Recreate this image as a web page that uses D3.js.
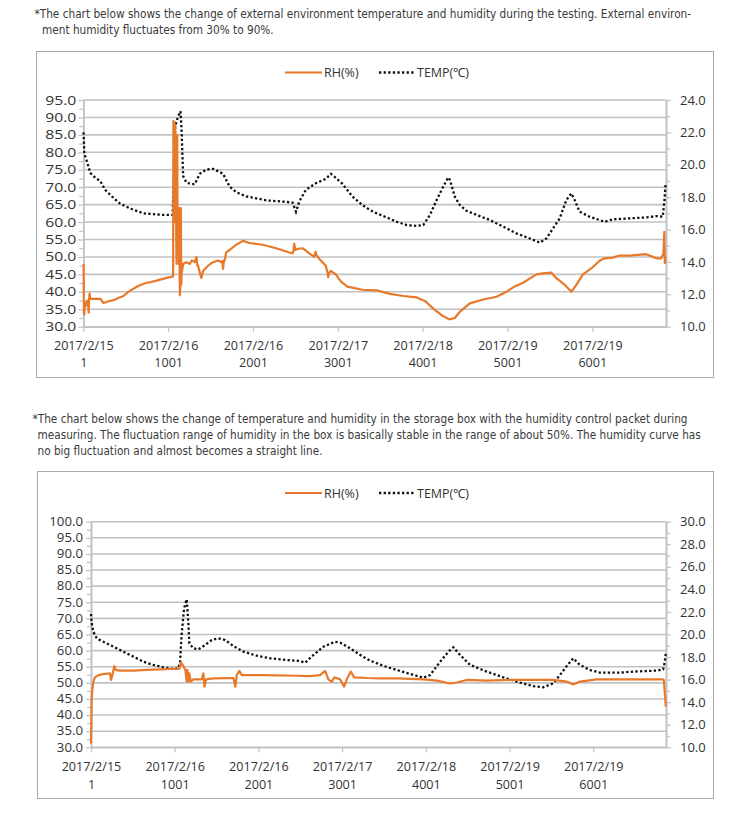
<!DOCTYPE html>
<html><head><meta charset="utf-8">
<script src="https://cdn.jsdelivr.net/npm/d3@7/dist/d3.min.js"></script>
<style>body{margin:0;background:#fff}</style>
</head><body>
<svg id="c" width="750" height="817"></svg>
<script>
// ---------- DATA ----------
const N = 6870; // number of samples on the category axis
const tickIdx = [1, 1001, 2001, 3001, 4001, 5001, 6001];
const tickDates = ["2017/2/15", "2017/2/16", "2017/2/16", "2017/2/17", "2017/2/18", "2017/2/19", "2017/2/19"];
const seriesNames = ["RH(%)", "TEMP(℃)"];

const caption1 = [
  "*The chart below shows the change of external environment temperature and humidity during the testing. External environ-",
  "ment humidity fluctuates from 30% to 90%."
];
const caption2 = [
  "*The chart below shows the change of temperature and humidity in the storage box with the humidity control packet during",
  "measuring. The fluctuation range of humidity in the box is basically stable in the range of about 50%. The humidity curve has",
  "no big fluctuation and almost becomes a straight line."
];

// Chart 1: external environment
const rh1Idx = [1,5,8,13,20,30,44,55,64,70,75,83,120,200,240,300,357,420,474,530,592,660,748,800,865,950,1022,1060,1063,1070,1076,1080,1085,1092,1100,1108,1112,1120,1128,1132,1139,1145,1151,1156,1159,1178,1217,1256,1280,1296,1315,1335,1345,1354,1380,1393,1413,1472,1530,1589,1628,1640,1648,1660,1667,1687,1726,1804,1882,1960,2117,2273,2469,2480,2488,2500,2528,2586,2665,2723,2740,2750,2782,2860,2880,2887,2900,2919,2977,3036,3114,3212,3290,3460,3617,3774,3930,4028,4127,4225,4315,4381,4440,4558,4715,4872,4989,5068,5185,5342,5420,5519,5578,5676,5754,5813,5891,5989,6087,6146,6244,6323,6440,6637,6754,6813,6840,6850,6856,6864];
const rh1Val = [48,47.5,34,33.5,37,36,37.5,37,34,38,39.5,38,38,38,36.8,37.3,37.6,38.3,38.8,40,40.9,41.8,42.6,42.8,43.2,43.8,44.2,44.4,89,88,85,60,88,70,48,85,60,64,48,64,39,42,64,42,45,48,48.5,48,49,48.8,48.5,50,47.5,47.5,45,44,46,47.5,48.5,49,48.5,48.8,46.6,49,49,51.4,52,53.5,54.6,54,53.5,52.5,51,52,53.8,52,52.3,52.5,51,50,51.5,50.5,49.5,47.5,45.5,44.2,45.5,46,45,43,41.5,41,40.6,40.4,39.4,38.8,38.4,37.4,35.2,33.3,32.1,32.5,34.3,36.7,37.8,38.6,40,41.3,42.6,45,45.3,45.5,43.9,42,40,42,45,46.7,48.9,49.6,49.8,50.4,50.4,50.8,49.6,49.6,51,57.2,48.2,50.1];
const temp1Idx = [1,5,13,44,83,142,200,259,337,435,552,709,826,944,1053,1069,1084,1120,1147,1159,1178,1217,1276,1315,1374,1452,1530,1648,1726,1804,1921,2039,2156,2352,2469,2508,2547,2625,2742,2860,2919,2958,3056,3173,3290,3381,3460,3577,3695,3813,3930,4009,4087,4166,4244,4303,4323,4381,4440,4519,4636,4793,4950,5107,5264,5382,5460,5538,5617,5695,5754,5793,5852,5970,6087,6146,6244,6440,6637,6754,6832,6852,6864];
const temp1Val = [22.0,21.9,20.7,20.2,19.5,19.2,19.0,18.45,18.05,17.6,17.3,17.0,16.95,16.9,16.9,19.3,22.4,23.0,23.3,22.2,19.3,18.9,18.8,18.8,19.45,19.7,19.75,19.45,18.65,18.3,18.05,17.93,17.8,17.73,17.66,17.1,17.73,18.45,18.86,19.13,19.44,19.28,18.82,18.04,17.52,17.2,17.0,16.75,16.48,16.28,16.22,16.28,16.9,17.82,18.65,19.22,19.06,18.03,17.51,17.16,16.9,16.59,16.18,15.76,15.45,15.19,15.45,16.07,16.69,17.82,18.23,17.82,17.1,16.79,16.59,16.48,16.63,16.69,16.75,16.83,16.79,17.82,18.75];

// Chart 2: storage box with humidity control packet
const rh2Idx = [1,9,17,29,49,89,148,228,240,256,280,296,348,507,666,826,945,1057,1077,1105,1128,1144,1152,1164,1176,1192,1224,1324,1344,1356,1376,1463,1702,1726,1742,1774,1802,2061,2459,2618,2738,2798,2837,2877,2909,2977,3025,3057,3105,3144,3296,3455,3655,3973,4132,4291,4371,4490,4729,5007,5524,5683,5762,5842,6040,6319,6828,6844,6856,6868];
const rh2Val = [31.2,44.7,47.8,50.4,51.7,52.4,52.7,52.95,50.9,52.4,55.2,54,53.8,53.8,54,54.2,54.3,54.4,56.3,55.2,54,50.4,54,50.4,52.95,50.4,51.1,51.1,52.95,48.8,51.1,51.4,51.5,48.8,52.4,53.7,52.4,52.4,52.2,52.1,52.4,53.7,51.1,50.4,51.7,51.1,48.8,51.1,53.5,51.7,51.5,51.4,51.4,51.1,50.7,49.8,50.1,50.9,50.7,50.9,50.9,50.4,49.5,50.4,51.1,51.1,51.1,50.9,46.8,42.6];
const temp2Idx = [1,9,29,69,148,268,387,507,626,746,866,985,1045,1065,1085,1113,1144,1164,1176,1224,1284,1364,1443,1523,1603,1702,1822,1981,2140,2339,2499,2559,2658,2778,2917,2977,3097,3256,3337,3496,3655,3814,3973,4053,4172,4271,4331,4391,4530,4729,4927,5126,5285,5404,5524,5603,5703,5762,5842,5961,6080,6319,6478,6756,6836,6856,6868];
const temp2Val = [21.82,20.99,20.25,19.66,19.36,18.92,18.48,18.04,17.59,17.3,17.09,16.94,17.0,17.59,20.1,22.32,23.12,20.99,19.22,18.77,18.69,19.07,19.51,19.66,19.51,18.98,18.48,18.12,17.89,17.74,17.65,17.5,18.18,18.92,19.36,19.28,18.77,18.0,17.68,17.21,16.85,16.5,16.17,16.41,17.59,18.48,18.86,18.33,17.3,16.71,16.2,15.73,15.43,15.32,15.67,16.41,17.38,17.89,17.3,16.85,16.62,16.62,16.71,16.8,16.91,17.59,18.39];

// ---------- LAYOUT / STYLE ----------
const ORANGE = "#E8792B";
const GRID = "#c2c2c2";
const TXT = "#333";
const LABEL_FONT = "'Open Sans', 'Liberation Sans', sans-serif";
const CAP_FONT = "'Liberation Sans Narrow', 'DejaVu Sans Condensed', 'Roboto', sans-serif";

const svg = d3.select("#c");
svg.append("rect").attr("width", 750).attr("height", 817).attr("fill", "#fff");

// caption lines: font size fitted so the natural width equals the target width
function caption(lines, xs, ys, widths) {
  const nodes = lines.map((t, i) => svg.append("text").attr("x", xs[i]).attr("y", ys[i])
      .attr("font-family", CAP_FONT).attr("font-size", 13).attr("fill", "#3a3a3a").text(t));
  const w0 = nodes[0].node().getComputedTextLength();
  const fs = Math.min(13.5, 13 * widths[0] / w0);
  nodes.forEach(n => n.attr("font-size", fs));
}
caption(caption1, [34.5, 42], [17.5, 33.5], [657, 228]);
caption(caption2, [32.5, 37.5, 37.5], [422.5, 438.5, 454.5], [656, 651, 297]);

function drawChart(cfg) {
  const g = svg.append("g");
  g.append("rect").attr("x", cfg.box[0] + 0.5).attr("y", cfg.box[1] + 0.5)
    .attr("width", cfg.box[2]).attr("height", cfg.box[3])
    .attr("fill", "#fff").attr("stroke", "#a8a8a8").attr("stroke-width", 1);

  const x = d3.scaleLinear().domain([1, N]).range([cfg.left, cfg.right]);
  const yL = d3.scaleLinear().domain(cfg.lDom).range([cfg.bottom, cfg.top]);
  const yR = d3.scaleLinear().domain(cfg.rDom).range([cfg.bottom, cfg.top]);

  const lMajor = d3.range(cfg.lDom[0], cfg.lDom[1] + 0.001, 5);
  const lMinor = d3.range(cfg.lDom[0] + 2.5, cfg.lDom[1], 5);
  const rMajor = d3.range(cfg.rDom[0], cfg.rDom[1] + 0.001, 2);
  const rMinor = d3.range(cfg.rDom[0] + 1, cfg.rDom[1], 2);

  // gridlines
  g.append("g").selectAll("line").data(lMajor).join("line")
    .attr("x1", cfg.left).attr("x2", cfg.right)
    .attr("y1", d => yL(d)).attr("y2", d => yL(d))
    .attr("stroke", GRID).attr("stroke-width", 1.6);

  const styleAxis = (sel, fs) => {
    sel.selectAll("path.domain").attr("stroke", GRID).attr("stroke-width", 1.6);
    sel.selectAll(".tick line").attr("stroke", GRID).attr("stroke-width", 1.2);
    sel.selectAll("text").attr("font-family", LABEL_FONT).attr("font-size", fs || 13).attr("fill", TXT);
  };
  const noText = sel => sel.selectAll(".tick text").remove();

  // left axis
  g.append("g").attr("transform", `translate(${cfg.left},0)`)
    .call(d3.axisLeft(yL).tickValues(lMinor).tickSize(4).tickSizeOuter(0)).call(noText).call(styleAxis);
  const la = g.append("g").attr("transform", `translate(${cfg.left},0)`)
    .call(d3.axisLeft(yL).tickValues(lMajor).tickSize(5).tickFormat(d3.format(".1f")).tickSizeOuter(0))
    .call(styleAxis, cfg.lFs);
  // labels are drawn slightly wide, as in the reference picture
  la.selectAll(".tick text").attr("x", null)
    .attr("transform", `translate(${-cfg.lPad},0) scale(${cfg.lSx},1)`);

  // right axis
  g.append("g").attr("transform", `translate(${cfg.right},0)`)
    .call(d3.axisRight(yR).tickValues(rMinor).tickSize(4).tickSizeOuter(0)).call(noText).call(styleAxis);
  g.append("g").attr("transform", `translate(${cfg.right},0)`)
    .call(d3.axisRight(yR).tickValues(rMajor).tickSize(5).tickPadding(9).tickFormat(d3.format(".1f")).tickSizeOuter(0))
    .call(styleAxis, 13);

  // bottom axis (two-line category labels: date and sample number)
  const bx = g.append("g").attr("transform", `translate(0,${cfg.bottom})`)
    .call(d3.axisBottom(x).tickValues(tickIdx).tickSize(5).tickSizeOuter(0))
    .call(noText).call(styleAxis);
  bx.selectAll(".tick").each(function (d, i) {
    const tk = d3.select(this);
    tk.append("text").attr("text-anchor", "middle").attr("x", 0).attr("y", cfg.lab1 - 0.5)
      .attr("font-family", LABEL_FONT).attr("font-size", 12.6).attr("fill", TXT).text(tickDates[i]);
    tk.append("text").attr("text-anchor", "middle").attr("x", 0).attr("y", cfg.lab1 + 17)
      .attr("font-family", LABEL_FONT).attr("font-size", 12.6).attr("fill", TXT).text(String(tickIdx[i]));
  });

  // series
  const rh = cfg.rhIdx.map((d, i) => [d, cfg.rhVal[i]]);
  const tp = cfg.tIdx.map((d, i) => [d, cfg.tVal[i]]);
  g.append("path").datum(tp)
    .attr("d", d3.line().x(d => x(d[0])).y(d => yR(d[1])))
    .attr("fill", "none").attr("stroke", "#111").attr("stroke-width", 2.3)
    .attr("stroke-dasharray", "2.3,2.3");
  g.append("path").datum(rh)
    .attr("d", d3.line().x(d => x(d[0])).y(d => yL(d[1])))
    .attr("fill", "none").attr("stroke", ORANGE).attr("stroke-width", 2.2)
    .attr("stroke-linejoin", "round");

  // legend
  const ly = cfg.legendY;
  g.append("line").attr("x1", 285).attr("x2", 322).attr("y1", ly).attr("y2", ly)
    .attr("stroke", ORANGE).attr("stroke-width", 2.2);
  g.append("text").attr("x", 324).attr("y", ly + 4.5).text(seriesNames[0])
    .attr("font-family", LABEL_FONT).attr("font-size", 12.5).attr("fill", TXT);
  g.append("line").attr("x1", 379).attr("x2", 415).attr("y1", ly).attr("y2", ly)
    .attr("stroke", "#111").attr("stroke-width", 2.3).attr("stroke-dasharray", "2.3,2.3");
  g.append("text").attr("x", 417).attr("y", ly + 4.5).text(seriesNames[1])
    .attr("font-family", LABEL_FONT).attr("font-size", 12.5).attr("fill", TXT);
}

drawChart({
  box: [36, 51, 677, 326], left: 83.3, right: 666, top: 100, bottom: 326.7,
  lDom: [30, 95], rDom: [10, 24], lab1: 23.5, legendY: 72.5,
  lFs: 12.6, lSx: 1.25, lPad: 7,
  rhIdx: rh1Idx, rhVal: rh1Val, tIdx: temp1Idx, tVal: temp1Val
});
drawChart({
  box: [37, 471, 676, 327], left: 91, right: 666, top: 521.7, bottom: 747.3,
  lDom: [30, 100], rDom: [10, 30], lab1: 24.5, legendY: 493,
  lFs: 11.8, lSx: 1.12, lPad: 8,
  rhIdx: rh2Idx, rhVal: rh2Val, tIdx: temp2Idx, tVal: temp2Val
});
</script>
</body></html>
